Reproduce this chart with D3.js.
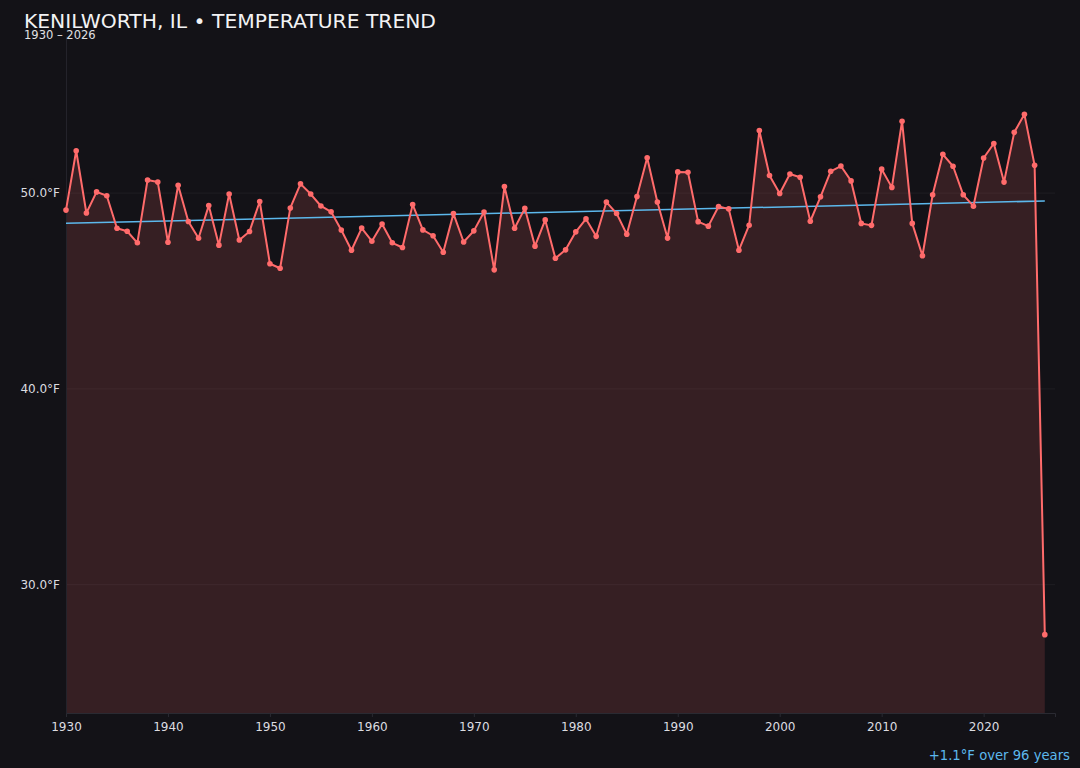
<!DOCTYPE html>
<html>
<head>
<meta charset="utf-8">
<script src="https://cdn.jsdelivr.net/npm/d3@7/dist/d3.min.js"></script>
<style>
  html, body { margin: 0; padding: 0; background: #131217; }
  svg { display: block; font-family: "DejaVu Sans", sans-serif; }
</style>
</head>
<body>
<svg id="chart" width="1080" height="768"></svg>
<script>
// ---- Data ----
const titleText = "KENILWORTH, IL • TEMPERATURE TREND";
const subtitleText = "1930 – 2026";
const years = d3.range(1930, 2027);
const temps = [
  49.13, 52.16, 48.98, 50.06, 49.86, 48.20, 48.05, 47.46, 50.67, 50.56, // 1930-1939
  47.49, 50.40, 48.55, 47.69, 49.36, 47.34, 49.95, 47.60, 48.04, 49.57, // 1940-1949
  46.39, 46.16, 49.24, 50.47, 49.95, 49.34, 49.04, 48.11, 47.08, 48.21, // 1950-1959
  47.54, 48.42, 47.46, 47.22, 49.41, 48.12, 47.82, 46.98, 48.95, 47.50, // 1960-1969
  48.07, 49.03, 46.08, 50.33, 48.20, 49.22, 47.29, 48.63, 46.67, 47.10, // 1970-1979
  48.02, 48.68, 47.79, 49.54, 48.96, 47.90, 49.82, 51.80, 49.54, 47.70, // 1980-1989
  51.08, 51.06, 48.54, 48.31, 49.31, 49.19, 47.08, 48.36, 53.19, 50.90, // 1990-1999
  49.98, 50.97, 50.81, 48.56, 49.81, 51.11, 51.38, 50.62, 48.45, 48.35, // 2000-2009
  51.22, 50.29, 53.67, 48.45, 46.80, 49.91, 51.98, 51.37, 49.91, 49.33, // 2010-2019
  51.79, 52.53, 50.56, 53.10, 54.02, 51.42, 27.45                      // 2020-2026
];
const yTicks = [30, 40, 50];
const xTicks = [1930, 1940, 1950, 1960, 1970, 1980, 1990, 2000, 2010, 2020];

// ---- Layout ----
const W = 1080, H = 768;
const mLeft = 66, mRight = 1055, mTop = 36, mBottom = 713;

const data = years.map((yr, i) => ({ year: yr, temp: temps[i] }));

const svg = d3.select("#chart");
svg.append("rect").attr("width", W).attr("height", H).attr("fill", "#131217");

const x = d3.scaleLinear().domain([years[0], years[years.length - 1] + 1]).range([mLeft, mRight]);
const yMin = d3.min(temps) - 4, yMax = d3.max(temps) + 4;
const y = d3.scaleLinear().domain([yMin, yMax]).range([mBottom, mTop]);

// gridlines
svg.append("g").selectAll("line").data(yTicks).join("line")
  .attr("x1", mLeft).attr("x2", mRight)
  .attr("y1", d => y(d)).attr("y2", d => y(d))
  .attr("stroke", "#ffffff").attr("stroke-opacity", 0.05).attr("stroke-width", 1);

// area
const area = d3.area().x(d => x(d.year)).y0(mBottom).y1(d => y(d.temp));
svg.append("path").datum(data).attr("d", area)
  .attr("fill", "#ff6b6b").attr("fill-opacity", 0.15);

// axes
const xAxis = d3.axisBottom(x).tickValues(xTicks).tickFormat(d3.format("d")).tickSize(4).tickPadding(5);
const gx = svg.append("g").attr("transform", `translate(0,${mBottom})`).call(xAxis);
gx.select(".domain").attr("stroke", "#2a2a32");
gx.selectAll(".tick line").attr("stroke", "#2a2a32");
gx.selectAll("text").attr("fill", "#dcdce0").attr("font-size", 12).attr("font-family", "DejaVu Sans, sans-serif");

const yAxis = d3.axisLeft(y).tickValues(yTicks).tickFormat(d => d.toFixed(1) + "°F").tickSize(0).tickPadding(6);
const gy = svg.append("g").attr("transform", `translate(${mLeft},0)`).call(yAxis);
gy.select(".domain").attr("stroke", "#24232b");
gy.selectAll("text").attr("fill", "#dcdce0").attr("font-size", 12).attr("font-family", "DejaVu Sans, sans-serif");

// trend (least squares over all points)
const mx = d3.mean(data, d => d.year), my = d3.mean(data, d => d.temp);
let sxy = 0, sxx = 0;
data.forEach(d => { sxy += (d.year - mx) * (d.temp - my); sxx += (d.year - mx) ** 2; });
const slope = sxy / sxx, intercept = my - slope * mx;
const x0 = years[0], x1 = years[years.length - 1];
svg.append("line")
  .attr("x1", x(x0)).attr("y1", y(intercept + slope * x0))
  .attr("x2", x(x1)).attr("y2", y(intercept + slope * x1))
  .attr("stroke", "#5cb8ec").attr("stroke-width", 1.5);

// line
const line = d3.line().x(d => x(d.year)).y(d => y(d.temp));
svg.append("path").datum(data).attr("d", line)
  .attr("fill", "none").attr("stroke", "#ff6b6b").attr("stroke-width", 2).attr("stroke-linejoin", "round");

svg.append("g").selectAll("circle").data(data).join("circle")
  .attr("cx", d => x(d.year)).attr("cy", d => y(d.temp)).attr("r", 2.8)
  .attr("fill", "#ff6b6b");

// titles
svg.append("text").attr("x", 24).attr("y", 27.5).text(titleText)
  .attr("fill", "#f2f2f4").attr("font-size", 20.3);
svg.append("text").attr("x", 24).attr("y", 39).text(subtitleText)
  .attr("fill", "#e0e0e4").attr("font-size", 11.5);

// annotation
const change = slope * (x1 - x0);
svg.append("text").attr("x", 1070).attr("y", 760).attr("text-anchor", "end")
  .text(`${change >= 0 ? "+" : ""}${change.toFixed(1)}°F over ${x1 - x0} years`)
  .attr("fill", "#5cb8ec").attr("font-size", 13.2);
</script>
</body>
</html>
